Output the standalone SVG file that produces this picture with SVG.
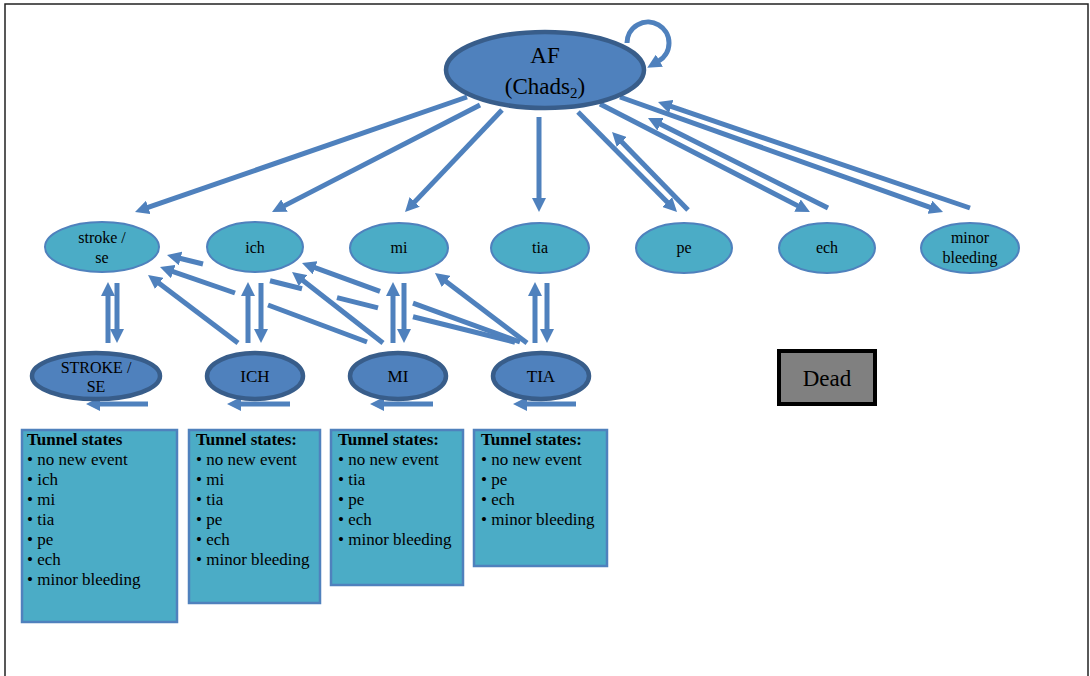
<svg xmlns="http://www.w3.org/2000/svg" width="1090" height="676" viewBox="0 0 1090 676">
<style>
.big{fill:#4f81bd;stroke:#385d8a;stroke-width:4.5}
.small{fill:#4bacc6;stroke:#4f81bd;stroke-width:2}
.t{font-family:"Liberation Serif","Times New Roman",serif;fill:#000}
.c{stroke:#4f81bd;stroke-width:5;fill:none;marker-end:url(#ah)}
.seg{stroke:#4f81bd;stroke-width:5;fill:none}
.box{fill:#4bacc6;stroke:#4f81bd;stroke-width:2.5}
.bt{font-family:"Liberation Serif","Times New Roman",serif;font-size:17px;fill:#000}
</style>
<defs>
<marker id="ah" markerUnits="userSpaceOnUse" viewBox="0 0 14 14" markerWidth="14" markerHeight="14" refX="1" refY="7" orient="auto"><path d="M0,0 L14,7 L0,14 z" fill="#4f81bd"/></marker>
</defs>
<rect x="5" y="4" width="1083" height="700" fill="#fff" stroke="#222" stroke-width="1.5"/>
<g id="connectors">
<path class="c" d="M627,43 A21,21 0 1 1 658.5,61.2" stroke-width="4"/>
<line class="c" x1="467" y1="97" x2="147.3" y2="207.7" stroke-width="6"/>
<line class="c" x1="480" y1="105" x2="283.6" y2="206.1"/>
<line class="c" x1="502" y1="110" x2="414" y2="202.6"/>
<line class="c" x1="539" y1="117" x2="539" y2="199"/>
<line class="c" x1="578" y1="112" x2="667.9" y2="202.8"/>
<line class="c" x1="688" y1="210" x2="621.1" y2="141.3"/>
<line class="c" x1="600" y1="104" x2="798.4" y2="206.1"/>
<line class="c" x1="828" y1="208" x2="659.6" y2="123.8"/>
<line class="c" x1="620" y1="97" x2="930.8" y2="207.6"/>
<line class="c" x1="970" y1="208" x2="670.3" y2="106.2"/>
<line class="c" x1="108" y1="343" x2="108" y2="295"/>
<line class="c" x1="117" y1="283" x2="117" y2="330"/>
<line class="c" x1="248" y1="343" x2="248" y2="295"/>
<line class="c" x1="261" y1="283" x2="261" y2="330"/>
<line class="c" x1="393" y1="343" x2="393" y2="295"/>
<line class="c" x1="404" y1="283" x2="404" y2="330"/>
<line class="c" x1="535" y1="343" x2="535" y2="295"/>
<line class="c" x1="547" y1="283" x2="547" y2="330"/>
<line class="c" x1="238" y1="343" x2="158.4" y2="282.8"/>
<line class="seg" x1="367" y1="342" x2="268" y2="305"/>
<line class="c" x1="235" y1="293" x2="172.3" y2="271.3"/>
<line class="seg" x1="515" y1="342.2" x2="413" y2="316.7"/>
<line class="seg" x1="378" y1="307.9" x2="337" y2="297.6"/>
<line class="seg" x1="302" y1="288.8" x2="270" y2="280.8"/>
<line class="c" x1="203" y1="264" x2="179.6" y2="258.2"/>
<line class="seg" x1="520" y1="342" x2="413" y2="303.2"/>
<line class="c" x1="380" y1="291.3" x2="314.2" y2="267.4"/>
<line class="c" x1="383" y1="343" x2="302.3" y2="280"/>
<line class="c" x1="527" y1="343" x2="445.3" y2="280.9"/>
<line class="c" x1="148" y1="404" x2="99" y2="404"/>
<line class="c" x1="290" y1="404" x2="240" y2="404"/>
<line class="c" x1="433" y1="404" x2="383" y2="404"/>
<line class="c" x1="576" y1="404" x2="526" y2="404"/>
</g>
<g id="AF">
<ellipse class="big" cx="545" cy="70" rx="99" ry="38"/>
<text class="t" x="545" y="63" font-size="23" text-anchor="middle">AF</text>
<text class="t" x="545" y="94" font-size="23" text-anchor="middle">(Chads<tspan font-size="15" dy="4">2</tspan><tspan dy="-4">)</tspan></text>
</g>
<g id="stroke_se">
<ellipse class="small" cx="102" cy="247" rx="57" ry="25"/>
<text class="t" x="102" y="243" font-size="16" text-anchor="middle">stroke /</text>
<text class="t" x="102" y="263" font-size="16" text-anchor="middle">se</text>
</g>
<g id="ich">
<ellipse class="small" cx="255" cy="247" rx="48" ry="25"/>
<text class="t" x="255" y="253" font-size="16" text-anchor="middle">ich</text>
</g>
<g id="mi">
<ellipse class="small" cx="399" cy="248" rx="49" ry="25"/>
<text class="t" x="399" y="253" font-size="16" text-anchor="middle">mi</text>
</g>
<g id="tia">
<ellipse class="small" cx="540" cy="248" rx="49" ry="25"/>
<text class="t" x="540" y="253" font-size="16" text-anchor="middle">tia</text>
</g>
<g id="pe">
<ellipse class="small" cx="684" cy="248" rx="48" ry="25"/>
<text class="t" x="684" y="253" font-size="16" text-anchor="middle">pe</text>
</g>
<g id="ech">
<ellipse class="small" cx="827" cy="248" rx="48" ry="25"/>
<text class="t" x="827" y="253" font-size="16" text-anchor="middle">ech</text>
</g>
<g id="minor_bleeding">
<ellipse class="small" cx="970" cy="248" rx="49" ry="25"/>
<text class="t" x="970" y="243" font-size="16" text-anchor="middle">minor</text>
<text class="t" x="970" y="263" font-size="16" text-anchor="middle">bleeding</text>
</g>
<g id="STROKE_SE">
<ellipse class="big" cx="96" cy="376" rx="64" ry="23"/>
<text class="t" x="96" y="373" font-size="16" text-anchor="middle">STROKE /</text>
<text class="t" x="96" y="392" font-size="16" text-anchor="middle">SE</text>
</g>
<g id="ICH">
<ellipse class="big" cx="255" cy="376" rx="48" ry="23"/>
<text class="t" x="255" y="382" font-size="17" text-anchor="middle">ICH</text>
</g>
<g id="MI">
<ellipse class="big" cx="398" cy="376" rx="48" ry="23"/>
<text class="t" x="398" y="382" font-size="17" text-anchor="middle">MI</text>
</g>
<g id="TIA">
<ellipse class="big" cx="541" cy="376" rx="48" ry="23"/>
<text class="t" x="541" y="382" font-size="17" text-anchor="middle">TIA</text>
</g>
<g id="Dead">
<rect x="779" y="351" width="96" height="53" fill="#808080" stroke="#000" stroke-width="4"/>
<text class="t" x="827" y="386" font-size="23" text-anchor="middle">Dead</text>
</g>
<g id="tunnel_stroke">
<rect class="box" x="22" y="430" width="155" height="192"/>
<text class="bt" x="27" y="445" font-weight="bold">Tunnel states</text>
<text class="bt" x="27" y="465">• no new event</text>
<text class="bt" x="27" y="485">• ich</text>
<text class="bt" x="27" y="505">• mi</text>
<text class="bt" x="27" y="525">• tia</text>
<text class="bt" x="27" y="545">• pe</text>
<text class="bt" x="27" y="565">• ech</text>
<text class="bt" x="27" y="585">• minor bleeding</text>
</g>
<g id="tunnel_ich">
<rect class="box" x="189" y="430" width="131" height="173"/>
<text class="bt" x="196" y="445" font-weight="bold">Tunnel states:</text>
<text class="bt" x="196" y="465">• no new event</text>
<text class="bt" x="196" y="485">• mi</text>
<text class="bt" x="196" y="505">• tia</text>
<text class="bt" x="196" y="525">• pe</text>
<text class="bt" x="196" y="545">• ech</text>
<text class="bt" x="196" y="565">• minor bleeding</text>
</g>
<g id="tunnel_mi">
<rect class="box" x="331" y="430" width="132" height="155"/>
<text class="bt" x="338" y="445" font-weight="bold">Tunnel states:</text>
<text class="bt" x="338" y="465">• no new event</text>
<text class="bt" x="338" y="485">• tia</text>
<text class="bt" x="338" y="505">• pe</text>
<text class="bt" x="338" y="525">• ech</text>
<text class="bt" x="338" y="545">• minor bleeding</text>
</g>
<g id="tunnel_tia">
<rect class="box" x="474" y="430" width="133" height="136"/>
<text class="bt" x="481" y="445" font-weight="bold">Tunnel states:</text>
<text class="bt" x="481" y="465">• no new event</text>
<text class="bt" x="481" y="485">• pe</text>
<text class="bt" x="481" y="505">• ech</text>
<text class="bt" x="481" y="525">• minor bleeding</text>
</g>
</svg>
